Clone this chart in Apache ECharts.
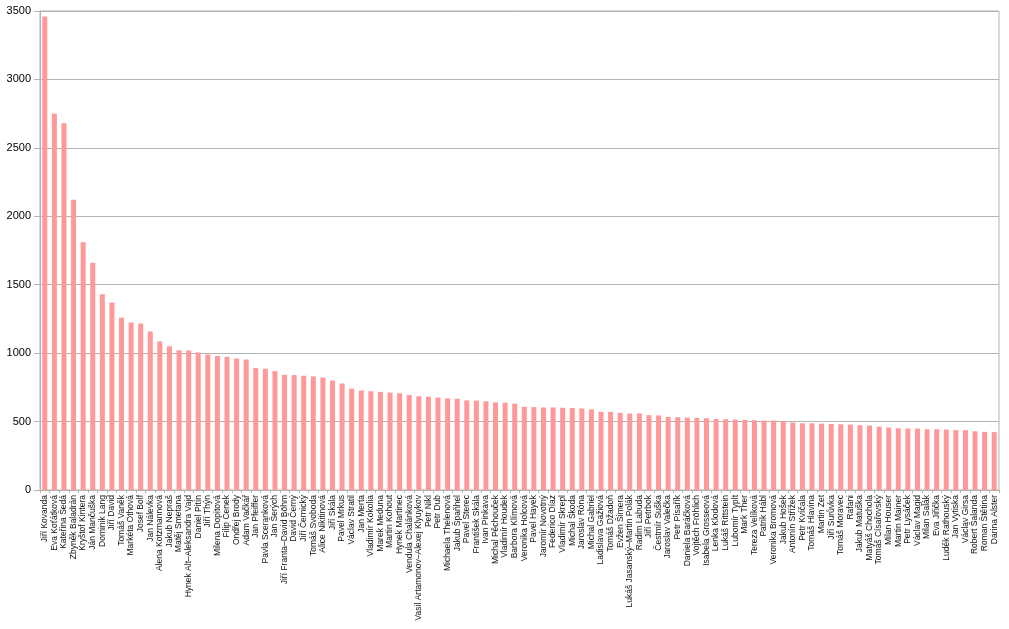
<!DOCTYPE html>
<html>
<head>
<meta charset="utf-8">
<script src="https://cdn.jsdelivr.net/npm/echarts@6/dist/echarts.min.js"></script>
<style>
html,body{margin:0;padding:0;background:#fff;}
#chart{width:1009px;height:629px;}
</style>
</head>
<body>
<div id="chart"></div>
<script>
const categories = [
"Jiří Kovanda","Eva Koťátková","Kateřina Šedá","Zbyněk Baladrán","Kryštof Kintera","Ján Mančuška","Dominik Lang","Jiří David","Tomáš Vaněk","Markéta Othová",
"Josef Bolf","Jan Nálevka","Alena Kotzmannová","Jakub Nepraš","Matěj Smetana","Hynek Alt–Aleksandra Vajd","Daniel Pitín","Jiří Thýn","Milena Dopitová","Filip Cenek",
"Ondřej Brody","Adam Vačkář","Jan Pfeiffer","Pavla Sceranková","Jan Šerých","Jiří Franta–David Böhm","David Černý","Jiří Černický","Tomáš Svoboda","Alice Nikitinová",
"Jiří Skála","Pavel Mrkus","Václav Stratil","Jan Merta","Vladimír Kokolia","Marek Meduna","Martin Kohout","Hynek Martinec","Vendula Chalánková","Vasil Artamonov–Alexej Klyuykov",
"Petr Nikl","Petr Dub","Michaela Thelenová","Jakub Špaňhel","Pavel Sterec","František Skála","Ivan Pinkava","Michal Pěchouček","Vladimír Houdek","Barbora Klímová",
"Veronika Holcová","Pavel Hayek","Jaromír Novotný","Federico Díaz","Vladimír Skrepl","Michal Škoda","Jaroslav Róna","Michal Gabriel","Ladislava Gažiová","Tomáš Džadoň",
"Evžen Šimera","Lukáš Jasanský–Martin Polák","Radim Labuda","Jiří Petrbok","Čestmír Suška","Jaroslav Valečka","Petr Písařík","Daniela Baráčková","Vojtěch Fröhlich","Isabela Grosseová",
"Lenka Klodová","Lukáš Rittstein","Lubomír Typlt","Mark Ther","Tereza Velíková","Patrik Hábl","Veronika Bromová","Jakub Hošek","Antonín Střížek","Petr Kvíčala",
"Tomáš Hlavina","Martin Zet","Jiří Surůvka","Tomáš Moravec","Rafani","Jakub Matuška","Matyáš Chochola","Tomáš Císařovský","Milan Houser","Martin Mainer",
"Petr Lysáček","Václav Magid","Milan Salák","Eva Jiřička","Luděk Rathouský","Jan Vytiska","Václav Girsa","Robert Šalanda","Roman Štětina","Darina Alster"
];
const values = [
3460,2750,2680,2120,1810,1660,1430,1370,1258,1223,
1216,1158,1085,1050,1022,1020,1005,990,980,973,
961,954,891,886,869,842,840,835,830,822,
800,778,741,727,722,717,712,707,695,685,
682,675,670,667,655,653,648,640,638,631,
608,606,603,603,601,599,596,589,571,571,
564,559,559,547,545,534,532,529,527,524,
519,517,515,512,510,507,507,500,493,488,
488,485,483,480,478,473,471,463,456,451,
449,449,444,444,442,437,437,429,425,423
];
const yMin = 0, yMax = 3500, yStep = 500;

const chart = echarts.init(document.getElementById('chart'), null, {renderer:'canvas'});
chart.setOption({
  animation: false,
  backgroundColor: '#ffffff',
  grid: {left: 40, right: 10, top: 11, bottom: 139, show: true, borderColor: '#b3b3b3', borderWidth: 1},
  xAxis: {
    type: 'category',
    data: categories,
    axisLine: {show: true, lineStyle: {color: '#b3b3b3'}},
    axisTick: {show: true, length: 3, lineStyle: {color: '#b3b3b3'}},
    axisLabel: {interval: 0, rotate: 90, fontSize: 8.5, color: '#111', fontFamily: 'Liberation Sans', margin: 5}
  },
  yAxis: {
    type: 'value',
    min: yMin, max: yMax, interval: yStep,
    axisLine: {show: true, lineStyle: {color: '#b3b3b3'}},
    axisTick: {show: true, length: 6, lineStyle: {color: '#b3b3b3'}},
    axisLabel: {fontSize: 11, color: '#000', fontFamily: 'Liberation Sans', margin: 9, formatter: function (v) { return String(v); }},
    splitLine: {show: true, lineStyle: {color: '#b3b3b3', width: 1}}
  },
  series: [{
    type: 'bar',
    data: values,
    barWidth: 5,
    itemStyle: {color: '#ff9999'}
  }]
});
</script>
</body>
</html>
